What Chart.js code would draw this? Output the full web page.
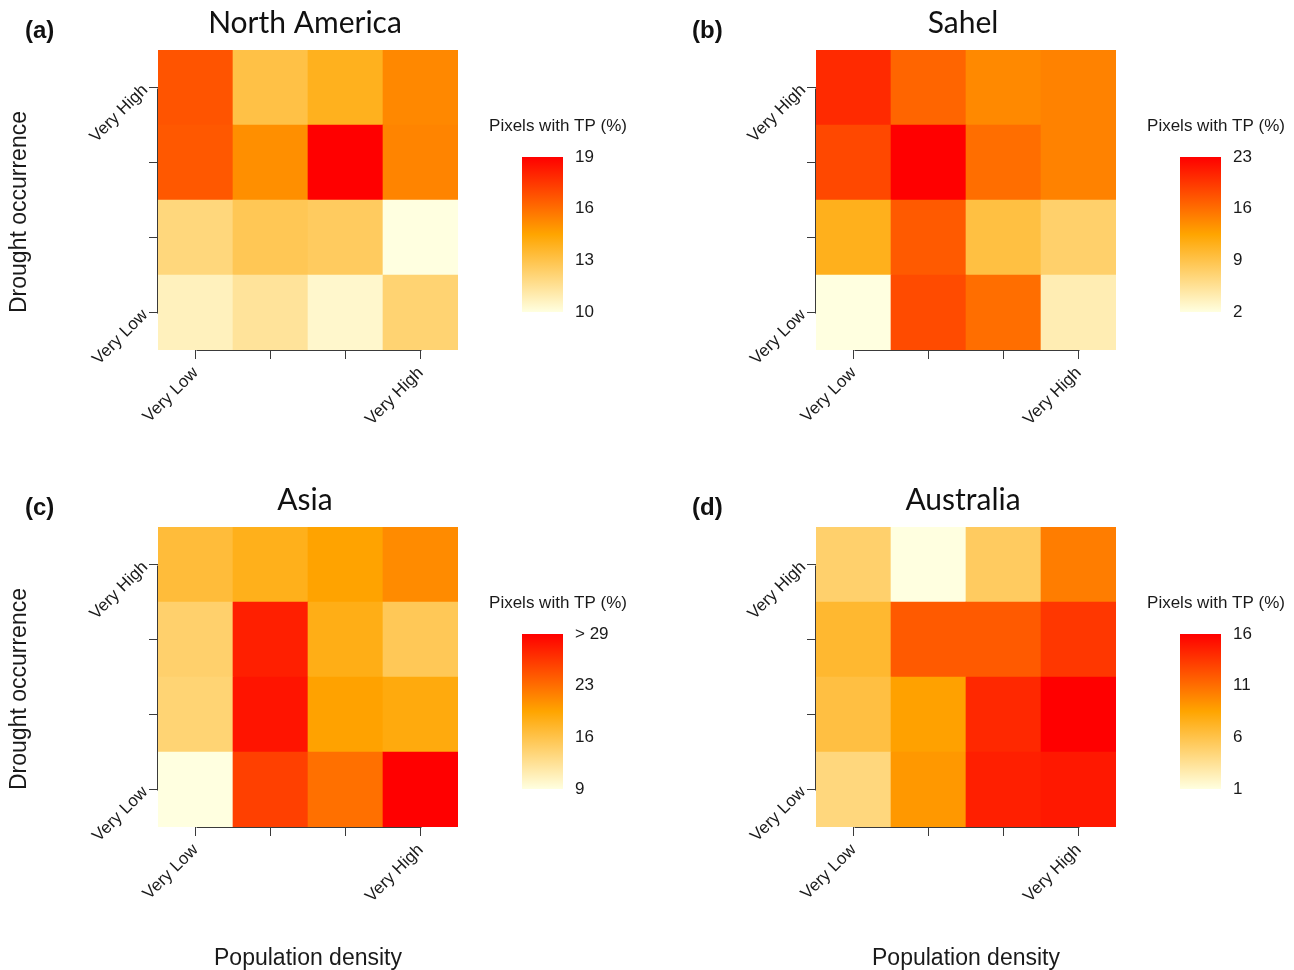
<!DOCTYPE html>
<html>
<head>
<meta charset="utf-8">
<title>Pixels with TP by drought occurrence and population density</title>
<script src="https://cdn.jsdelivr.net/npm/chart.js@4.4.1/dist/chart.umd.min.js"></script>
<style>
  html, body { margin: 0; padding: 0; background: #ffffff; }
  body { width: 1294px; height: 970px; position: relative; overflow: hidden; }
  canvas { position: absolute; }
</style>
</head>
<body>
<canvas id="northAmerica" width="636" height="477" style="left:0;top:0"></canvas>
<canvas id="sahel" width="636" height="477" style="left:658px;top:0"></canvas>
<canvas id="asia" width="636" height="493" style="left:0;top:477px"></canvas>
<canvas id="australia" width="636" height="493" style="left:658px;top:477px"></canvas>
<script>
// Class labels for both axes (only the extreme classes are named)
const popDensityClasses = ['Very Low', '', '', 'Very High'];
const droughtClasses = ['Very Low', '', '', 'Very High'];

// Pixels with TP (%) — one row per drought class, Very Low first;
// columns run from Very Low to Very High population density.
const northAmericaTP = [
  [10.7, 11.4, 10.4, 12.2],
  [12.0, 12.8, 12.6, 10.0],
  [16.6, 15.1, 19.0, 15.4],
  [16.7, 13.1, 13.9, 15.3]
];
const sahelTP = [
  [2.0, 18.2, 16.0, 4.1],
  [11.2, 17.3, 9.4, 7.5],
  [18.4, 23.0, 16.0, 14.7],
  [20.3, 16.6, 14.3, 14.7]
];
const asiaTP = [
  [9.0, 25.1, 22.2, 29.0],
  [13.8, 27.8, 19.2, 18.4],
  [14.2, 27.1, 18.0, 15.1],
  [16.4, 17.8, 19.1, 20.6]
];
const australiaTP = [
  [4.3, 9.1, 14.6, 14.9],
  [6.3, 8.7, 14.2, 16.0],
  [6.9, 11.9, 11.9, 13.5],
  [4.9, 1.0, 5.3, 10.3]
];

// Colour-scale limits and colour-bar labels for each region
const northAmericaRange = [10, 19];
const sahelRange = [2, 23];
const asiaRange = [9, 29];
const australiaRange = [1, 16];
const northAmericaKey = ['10', '13', '16', '19'];
const sahelKey = ['2', '9', '16', '23'];
const asiaKey = ['9', '16', '23', '> 29'];
const australiaKey = ['1', '6', '11', '16'];

// Light yellow -> orange -> red colour ramp
const RAMP = [[255, 255, 224], [255, 165, 0], [255, 0, 0]];
const TEXT = '#1a1a1a';
const AXIS = '#3a3a3a';
const SANS = '"Liberation Sans", Arial, sans-serif';
const TITLE_FONT = 'Lato, "Open Sans", sans-serif';

function rampColour(v, lo, hi) {
  const t = Math.min(1, Math.max(0, (v - lo) / (hi - lo)));
  const s = t * (RAMP.length - 1);
  const i = Math.min(Math.floor(s), RAMP.length - 2);
  const f = s - i;
  const c = RAMP[i].map((c0, k) => Math.round(c0 + (RAMP[i + 1][k] - c0) * f));
  return 'rgb(' + c.join(',') + ')';
}

// Draws the short axis lines, the colour bar with its key, panel letter and titles
const panelDecor = {
  id: 'panelDecor',
  afterDraw(chart, args, o) {
    const { ctx, chartArea: a, scales: { x, y } } = chart;
    ctx.save();

    // axis lines span only first..last tick
    ctx.strokeStyle = AXIS;
    ctx.lineWidth = 1;
    ctx.beginPath();
    const by = Math.round(a.bottom) + 0.5;
    ctx.moveTo(Math.round(x.getPixelForTick(0)) + 0.5, by);
    ctx.lineTo(Math.round(x.getPixelForTick(x.ticks.length - 1)) + 0.5, by);
    const lx = Math.round(a.left) - 0.5;
    ctx.moveTo(lx, Math.round(y.getPixelForTick(0)) + 0.5);
    ctx.lineTo(lx, Math.round(y.getPixelForTick(y.ticks.length - 1)) + 0.5);
    ctx.stroke();

    // colour bar
    const bx = a.right + 64, bw = 41, bt = a.top + 107, bh = 155;
    const g = ctx.createLinearGradient(0, bt + bh, 0, bt);
    RAMP.forEach((c, i) => g.addColorStop(i / (RAMP.length - 1), 'rgb(' + c.join(',') + ')'));
    ctx.fillStyle = g;
    ctx.fillRect(bx, bt, bw, bh);

    ctx.fillStyle = TEXT;
    ctx.font = '17px ' + SANS;
    ctx.textAlign = 'left';
    ctx.textBaseline = 'middle';
    const n = o.key.length;
    o.key.forEach((lab, i) => {
      ctx.fillText(lab, bx + bw + 12, bt + bh - i * bh / (n - 1));
    });
    ctx.font = '17px ' + SANS;
    ctx.textAlign = 'center';
    ctx.fillText('Pixels with TP (%)', a.right + 100, a.top + 76);

    // y-axis title, vertical
    if (o.yTitle) {
      ctx.save();
      ctx.translate(20, a.top + 162);
      ctx.rotate(-Math.PI / 2);
      ctx.font = '23px ' + SANS;
      ctx.textAlign = 'center';
      ctx.textBaseline = 'middle';
      ctx.fillText(o.yTitle, 0, 0);
      ctx.restore();
    }

    // panel title and letter
    ctx.textAlign = 'center';
    ctx.textBaseline = 'alphabetic';
    ctx.font = '30px ' + TITLE_FONT;
    ctx.fillStyle = '#111';
    ctx.fillText(o.title, (a.left + a.right) / 2 - 3, a.top - 17);
    ctx.textAlign = 'left';
    ctx.font = 'bold 24px ' + SANS;
    ctx.fillText(o.letter, o.letterX, a.top - 12);
    ctx.restore();
  }
};

function drawHeatmap(canvasId, values, range, key, title, letter, letterX, yTitle, showX) {
  const canvas = document.getElementById(canvasId);
  const xAxisHeight = canvas.height - 350;
  new Chart(canvas, {
    type: 'bar',
    data: {
      labels: popDensityClasses,
      datasets: values.map((row, r) => ({
        label: droughtClasses[r],
        data: row.map(() => [r, r + 1]),
        backgroundColor: row.map(v => rampColour(v, range[0], range[1])),
        borderWidth: 0,
        grouped: false,
        barPercentage: 1,
        categoryPercentage: 1
      }))
    },
    options: {
      responsive: false,
      animation: false,
      events: [],
      layout: { padding: { top: 50, right: 178, left: 0, bottom: 0 } },
      plugins: {
        legend: { display: false },
        tooltip: { enabled: false },
        panelDecor: { key, title, letter, letterX, yTitle }
      },
      scales: {
        x: {
          type: 'category',
          offset: true,
          border: { display: false },
          grid: { offset: false, drawOnChartArea: false, drawTicks: true, tickLength: 9, color: AXIS, lineWidth: 1 },
          ticks: { autoSkip: false, minRotation: 45, maxRotation: 45, padding: 4, color: TEXT, font: { family: SANS, size: 17 } },
          title: { display: showX, text: 'Population density', color: TEXT, font: { family: SANS, size: 23, lineHeight: 1 }, padding: { top: 0, bottom: 0 } },
          afterFit(s) { s.height = xAxisHeight; s.paddingLeft = 0; s.paddingRight = 0; }
        },
        y: {
          type: 'linear',
          min: 0,
          max: 4,
          border: { display: false },
          grid: { drawOnChartArea: false, drawTicks: true, tickLength: 9, color: AXIS, lineWidth: 1 },
          afterBuildTicks(s) { s.ticks = droughtClasses.map((_, i) => ({ value: i + 0.5 })); },
          ticks: {
            minRotation: 45, maxRotation: 45, padding: 4, color: TEXT,
            font: { family: SANS, size: 17 },
            callback: (v, i) => droughtClasses[i]
          },
          afterFit(s) { s.width = 158; s.paddingTop = 0; s.paddingBottom = 0; }
        }
      }
    },
    plugins: [panelDecor]
  });
}

drawHeatmap('northAmerica', northAmericaTP, northAmericaRange, northAmericaKey, 'North America', '(a)', 25, 'Drought occurrence', false);
drawHeatmap('sahel', sahelTP, sahelRange, sahelKey, 'Sahel', '(b)', 34, '', false);
drawHeatmap('asia', asiaTP, asiaRange, asiaKey, 'Asia', '(c)', 25, 'Drought occurrence', true);
drawHeatmap('australia', australiaTP, australiaRange, australiaKey, 'Australia', '(d)', 34, '', true);
</script>
</body>
</html>
